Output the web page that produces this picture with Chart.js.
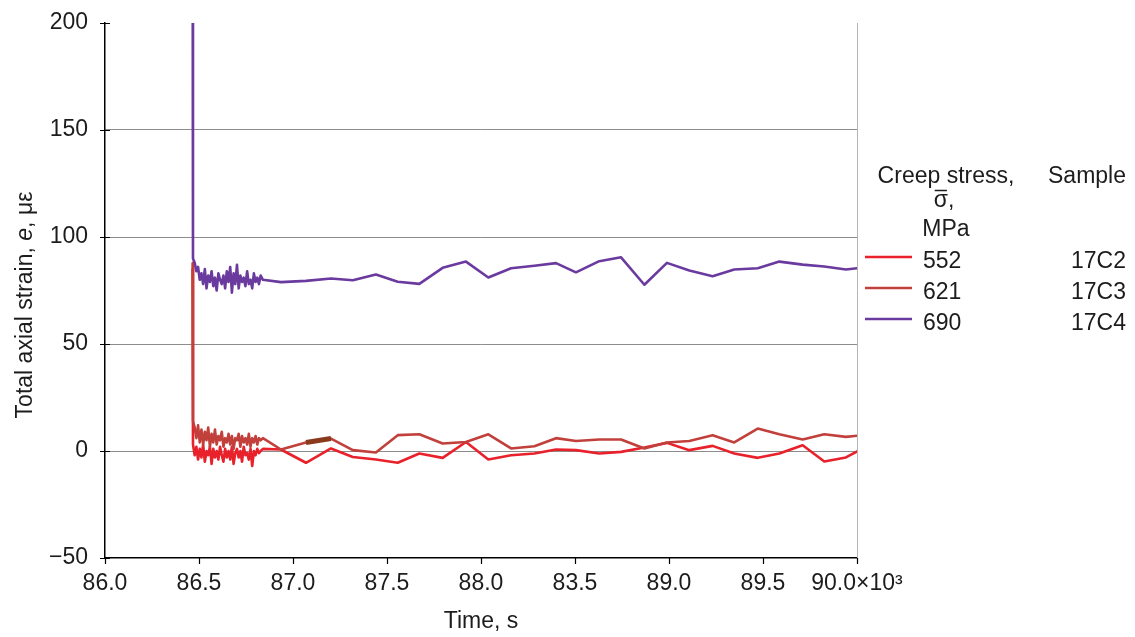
<!DOCTYPE html>
<html>
<head>
<meta charset="utf-8">
<script src="https://cdn.jsdelivr.net/npm/chart.js@4.4.1/dist/chart.umd.min.js"></script>
<style>
  html, body { margin: 0; padding: 0; background: #fff; }
  #wrap { width: 1135px; height: 637px; }
</style>
</head>
<body>
<div id="wrap"><canvas id="myChart" width="1135" height="637"></canvas></div>
<script>
// time in 10^3 s, dense logging right after loading, then every ~2 min
const timeKs = [
  86.466, 86.468, 86.477, 86.486, 86.495, 86.504, 86.513, 86.522, 86.531, 86.540,
  86.549, 86.558, 86.567, 86.576, 86.585, 86.594, 86.603, 86.612, 86.621, 86.630,
  86.639, 86.648, 86.657, 86.666, 86.675, 86.684, 86.693, 86.702, 86.711, 86.720,
  86.729, 86.738, 86.747, 86.756, 86.765, 86.774, 86.783, 86.792, 86.801, 86.810,
  86.819, 86.828, 86.840,
  86.936, 87.069, 87.202, 87.318, 87.441, 87.557, 87.672, 87.796, 87.920, 88.039,
  88.160, 88.284, 88.399, 88.505, 88.629, 88.745, 88.869, 88.989, 89.108, 89.232,
  89.347, 89.472, 89.587, 89.711, 89.826, 89.941, 90.060
];

// total axial strain, microstrain
const strain552 = [
  85, 3, -2, 2, -4, 1, -3, 3, -5, 0,
  -2, 2, -6, 1, -3, 0, -4, 2, -2, -5,
  1, -3, 0, -4, 2, -6, -1, 1, -3, 0,
  -5, 2, -2, -1, -4, 1, -7, 0, -2, 1,
  -1, 0, 1,
  0.7, -5.5, 1.2, -2.8, -4.0, -5.5, -1.2, -3.2, 4.2, -4.0,
  -2.0, -1.2, 0.7, 0.4, -1.2, -0.4, 1.6, 3.8, 0.4, 2.4,
  -1.2, -3.2, -1.2, 2.7, -4.9, -3.0, 2.5
];
const strain621 = [
  88, 14, 11, 6, 12, 4, 10, 3, 9, 5,
  11, 2, 8, 4, 10, 3, 7, 5, 9, 2,
  6, 4, 8, 3, 7, 1, 6, 5, 8, 2,
  7, 4, 6, 3, 8, 2, 6, 4, 7, 3,
  6, 5, 6,
  0.7, 4.0, 5.8, 0.4, -0.7, 7.4, 7.8, 3.5, 4.2, 7.8,
  1.2, 2.2, 6.0, 4.7, 5.4, 5.4, 1.2, 4.0, 4.7, 7.4,
  4.0, 10.5, 7.8, 5.4, 7.8, 6.6, 7.6
];
const strain690 = [
  260, 90, 88, 84, 86, 80, 83, 78, 85, 76,
  82, 79, 84, 77, 81, 75, 83, 80, 78, 82,
  76, 84, 79, 86, 74, 83, 78, 87, 76, 82,
  79, 81, 77, 84, 78, 80, 76, 83, 79, 81,
  78, 82, 80,
  78.9, 79.5, 80.6, 79.8, 82.5, 79.1, 78.1, 85.6, 88.5, 81.1,
  85.4, 86.6, 87.8, 83.5, 88.7, 90.5, 77.7, 87.9, 84.3, 81.7,
  84.8, 85.4, 88.5, 87.1, 86.2, 84.8, 86.0
];

// short thick brown stroke that sits on the 621 curve in the original
const markTime = [87.069, 87.202];
const markStrain = [4.0, 5.8];

const stressLabels = ['552', '621', '690'];
const sampleLabels = ['17C2', '17C3', '17C4'];
const lineColors = ['#e8212b', '#c2403c', '#6a3a9e'];

const xTickValues = [86.0, 86.5, 87.0, 87.5, 88.0, 88.5, 89.0, 89.5, 90.0];
const xTickLabels = ['86.0', '86.5', '87.0', '87.5', '88.0', '83.5', '89.0', '89.5', '90.0\u00d710\u00b3'];
const yTickValues = [-50, 0, 50, 100, 150, 200];
const yTickLabels = ['\u221250', '0', '50', '100', '150', '200'];

const FONT = '"Liberation Sans", Arial, sans-serif';
const TEXT = '#1c1c1c';

function toPoints(xs, ys) {
  let pts = [];
  for (let i = 0; i < xs.length; i++) {
    pts.push({x: xs[i], y: ys[i]});
  }
  return pts;
}

// titles, tick marks, right border and the two-column legend
const decorPlugin = {
  id: 'decor',
  afterDraw(chart) {
    const c = chart.ctx;
    const area = chart.chartArea;
    const xs = chart.scales.x;
    const ys = chart.scales.y;
    c.save();

    // right frame line
    c.strokeStyle = '#b5b5b5';
    c.lineWidth = 1;
    c.beginPath();
    c.moveTo(area.right + 0.5, area.top);
    c.lineTo(area.right + 0.5, area.bottom);
    c.stroke();

    // tick marks
    c.strokeStyle = '#000';
    c.lineWidth = 1.2;
    c.beginPath();
    for (let v of yTickValues) {
      let y = Math.round(ys.getPixelForValue(v)) + 0.5;
      c.moveTo(area.left - 5, y);
      c.lineTo(area.left + 5, y);
    }
    for (let v of xTickValues) {
      let x = Math.round(xs.getPixelForValue(v)) + 0.5;
      c.moveTo(x, area.bottom);
      c.lineTo(x, area.bottom + 6);
    }
    c.stroke();

    c.fillStyle = TEXT;
    c.font = '23px ' + FONT;

    // x title
    c.textAlign = 'center';
    c.textBaseline = 'alphabetic';
    c.fillText('Time, s', (area.left + area.right) / 2, 628);

    // y title with italic e
    const parts = [
      {t: 'Total axial strain, ', f: '23px ' + FONT},
      {t: 'e', f: 'italic 23px ' + FONT},
      {t: ', \u03bc\u03b5', f: '23px ' + FONT}
    ];
    let total = 0;
    for (let p of parts) { c.font = p.f; p.w = c.measureText(p.t).width; total += p.w; }
    c.translate(32, 305);
    c.rotate(-Math.PI / 2);
    c.textAlign = 'left';
    let pos = -total / 2;
    for (let p of parts) { c.font = p.f; c.fillText(p.t, pos, 0); pos += p.w; }
    c.setTransform(1, 0, 0, 1, 0, 0);

    // legend header
    c.font = '23px ' + FONT;
    c.textAlign = 'center';
    c.fillText('Creep stress,', 946, 183);
    c.fillText('MPa', 946, 236);
    c.fillText('Sample', 1087, 183);
    // sigma with a bar over it
    c.textAlign = 'left';
    let sw = c.measureText('\u03c3').width;
    let cw = c.measureText('\u03c3,').width;
    let sx = 944 - cw / 2;
    c.fillText('\u03c3,', sx, 207);
    c.strokeStyle = TEXT;
    c.lineWidth = 1.5;
    c.beginPath();
    c.moveTo(sx + 1, 190.5);
    c.lineTo(sx + sw - 1, 190.5);
    c.stroke();

    // legend rows
    const rowY = [257, 288, 319];
    for (let i = 0; i < stressLabels.length; i++) {
      c.strokeStyle = lineColors[i];
      c.lineWidth = 2.5;
      c.beginPath();
      c.moveTo(865, rowY[i]);
      c.lineTo(912, rowY[i]);
      c.stroke();
      c.textAlign = 'left';
      c.fillText(stressLabels[i], 923, rowY[i] + 11);
      c.textAlign = 'right';
      c.fillText(sampleLabels[i], 1126, rowY[i] + 11);
    }
    c.restore();
  }
};

const ctx = document.getElementById('myChart');

new Chart(ctx, {
  type: 'line',
  data: {
    datasets: [
      {label: stressLabels[0], data: toPoints(timeKs, strain552), borderColor: lineColors[0], order: 3},
      {label: stressLabels[1], data: toPoints(timeKs, strain621), borderColor: lineColors[1], order: 2},
      {label: stressLabels[2], data: toPoints(timeKs, strain690), borderColor: lineColors[2], order: 1},
      {label: 'mark', data: toPoints(markTime, markStrain), borderColor: '#8a3a1c', borderWidth: 5, order: 0}
    ]
  },
  options: {
    responsive: false,
    animation: false,
    devicePixelRatio: 1,
    layout: {padding: {top: 23, right: 278, left: 0, bottom: 0}},
    elements: {
      line: {borderWidth: 2.6, tension: 0, borderJoinStyle: 'round', fill: false},
      point: {radius: 0, hoverRadius: 0}
    },
    plugins: {
      legend: {display: false},
      tooltip: {enabled: false}
    },
    scales: {
      x: {
        type: 'linear',
        min: 86,
        max: 90,
        afterFit: function(s) { s.height = 79; s.paddingLeft = 0; s.paddingRight = 0; },
        grid: {display: false, drawTicks: false},
        border: {display: true, color: '#000', width: 1.5},
        ticks: {
          stepSize: 0.5,
          autoSkip: false,
          maxRotation: 0,
          padding: 12,
          color: TEXT,
          font: {family: FONT, size: 23},
          callback: function(v, i) { return xTickLabels[i]; }
        }
      },
      y: {
        min: -50,
        max: 200,
        afterFit: function(s) { s.width = 105; s.paddingTop = 0; s.paddingBottom = 0; },
        grid: {
          drawTicks: false,
          color: function(c) {
            let v = c.tick ? c.tick.value : null;
            return (v === -50 || v === 200) ? 'rgba(0,0,0,0)' : '#8c8c8c';
          },
          lineWidth: 1
        },
        border: {display: true, color: '#000', width: 1.5},
        ticks: {
          stepSize: 50,
          padding: 17,
          color: TEXT,
          font: {family: FONT, size: 23},
          callback: function(v, i) { return yTickLabels[i]; }
        }
      }
    }
  },
  plugins: [decorPlugin]
});
</script>
</body>
</html>
